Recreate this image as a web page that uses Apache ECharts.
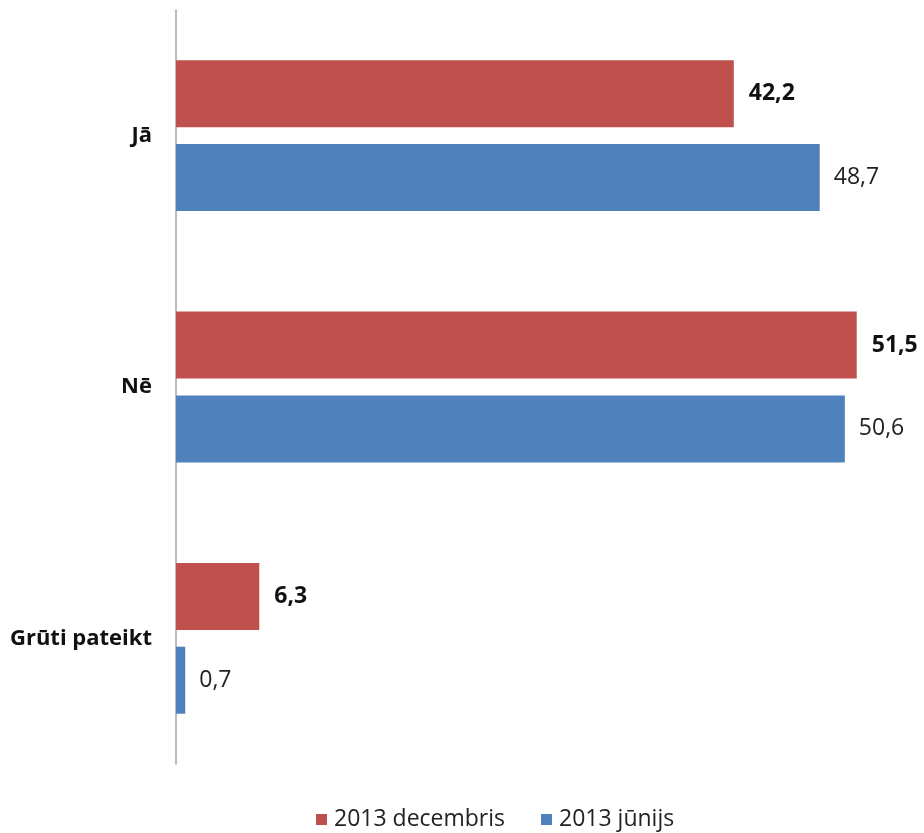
<!DOCTYPE html>
<html><head><meta charset="utf-8">
<script src="https://cdn.jsdelivr.net/npm/echarts@6/dist/echarts.min.js"></script>
<style>html,body{margin:0;padding:0;background:#fff}#c{width:924px;height:833px}</style>
</head><body><div id="c"></div>
<script>
const categories = ['Jā', 'Nē', 'Grūti pateikt'];
const seriesNames = ['2013 decembris', '2013 jūnijs'];
const decembris = [42.2, 51.5, 6.3];
const junijs = [48.7, 50.6, 0.7];

const fontFamily = '"Open Sans", sans-serif';
const chart = echarts.init(document.getElementById('c'));
const fmt = p => String(p.value).replace('.', ',');
chart.setOption({
  animation: false,
  textStyle: { fontFamily: fontFamily },
  grid: { left: 176, right: 21, top: 10, bottom: 69, containLabel: false },
  legend: {
    bottom: -3, left: 311,
    itemWidth: 11, itemHeight: 11, itemGap: 36,
    icon: 'rect',
    textStyle: { fontSize: 23, color: '#222', fontFamily: fontFamily, padding: [0, 0, 0, 2] },
    data: seriesNames
  },
  xAxis: {
    type: 'value', min: 0, max: 55,
    show: false
  },
  yAxis: {
    type: 'category', data: categories, inverse: true,
    axisLine: { show: true, lineStyle: { color: '#a6a6a6', width: 1.5 } },
    axisTick: { show: false },
    axisLabel: { fontSize: 22, fontWeight: 'bold', color: '#111', margin: 24, fontFamily: fontFamily }
  },
  series: [
    {
      name: seriesNames[0], type: 'bar', data: decembris,
      barGap: '25%', barCategoryGap: '40%',
      itemStyle: { color: '#C0504D' },
      label: { show: true, position: 'right', distance: 15, formatter: fmt,
        fontSize: 23, fontWeight: 'bold', color: '#111', fontFamily: fontFamily }
    },
    {
      name: seriesNames[1], type: 'bar', data: junijs,
      barGap: '25%', barCategoryGap: '40%',
      itemStyle: { color: '#4F81BD' },
      label: { show: true, position: 'right', distance: 14, formatter: fmt,
        fontSize: 23, color: '#222', fontFamily: fontFamily }
    }
  ]
});
</script></body></html>
